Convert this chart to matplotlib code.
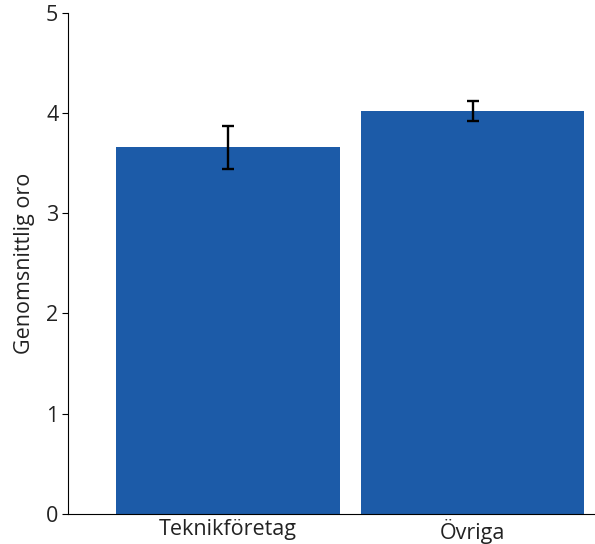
import matplotlib
matplotlib.use("Agg")
import matplotlib.pyplot as plt

plt.rcParams['font.family'] = ['Open Sans', 'DejaVu Sans']

categories = ['Teknikföretag', 'Övriga']
means = [3.66, 4.02]
errors = [0.215, 0.10]

fig = plt.figure(figsize=(5.95, 5.44), dpi=100)
ax = fig.add_axes([68 / 595, (544 - 513.7) / 544, 1 - 68 / 595, (513.7 - 13) / 544])

x = range(len(categories))
ax.bar(x, means, width=0.914, color='#1c5ba8',
       yerr=errors, capsize=4.3,
       error_kw=dict(ecolor='black', elinewidth=1.7, capthick=1.7))

ax.set_xlim(-0.653, 1.5)
ax.set_ylim(0, 5)
ax.set_xticks(list(x))
ax.set_xticklabels(categories)
ax.set_yticks([0, 1, 2, 3, 4, 5])
ax.tick_params(axis='x', length=0, pad=4, labelsize=15.5, labelcolor='#222222')
ax.tick_params(axis='y', length=4, width=0.8, pad=3, labelsize=15.5, labelcolor='#222222')
ax.set_ylabel('Genomsnittlig oro', fontsize=15.5, labelpad=8, color='#222222')

for side in ['top', 'right']:
    ax.spines[side].set_visible(False)
for side in ['left', 'bottom']:
    ax.spines[side].set_linewidth(0.8)

fig.savefig('out.png', dpi=100)
